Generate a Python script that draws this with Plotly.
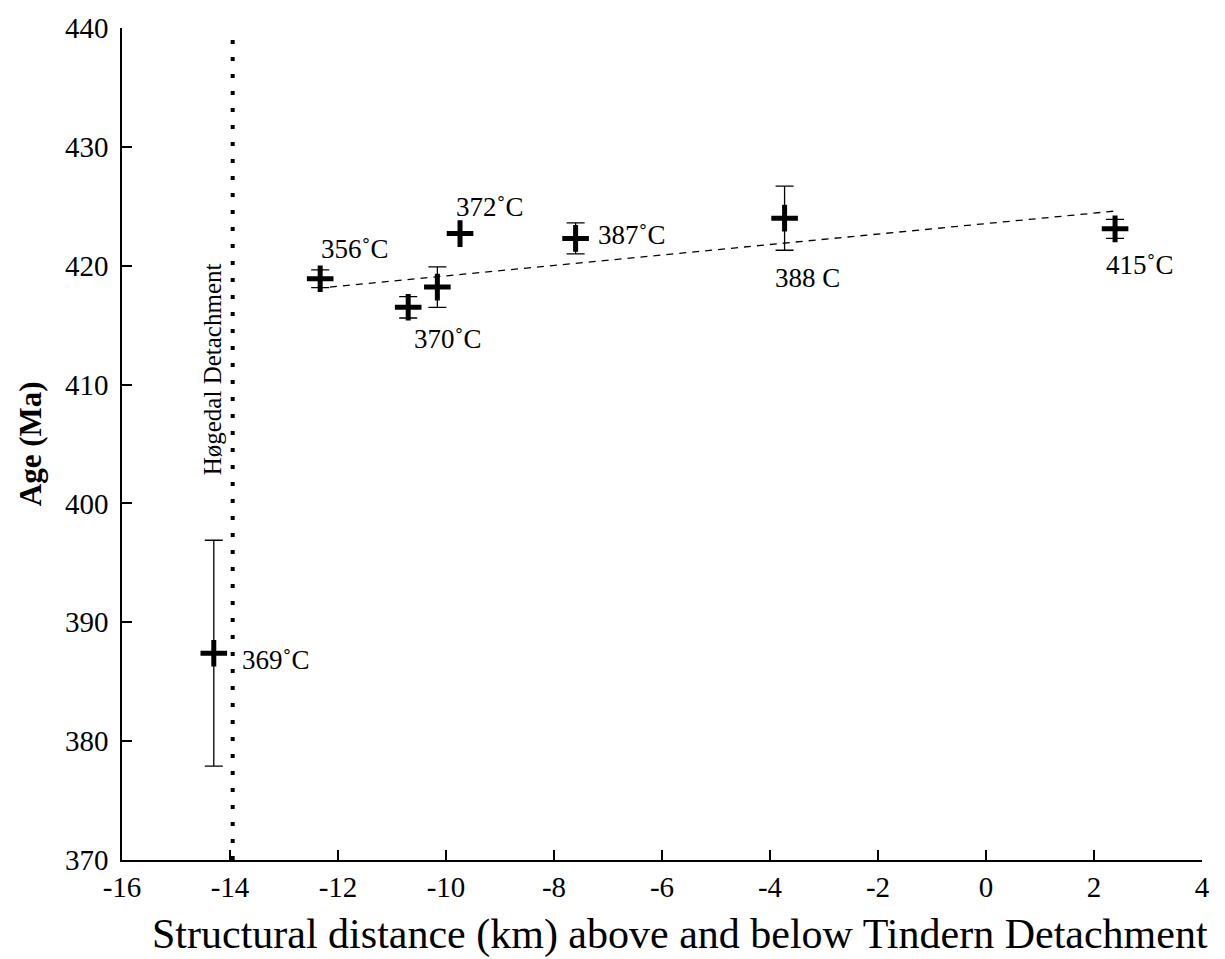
import plotly.graph_objects as go

# Data
dist_km = [-14.3, -12.33, -10.70, -10.16, -9.74, -7.60, -3.73, 2.39]
age_ma = [387.4, 418.9, 416.5, 418.2, 422.7, 422.3, 424.0, 423.1]
age_err = [9.5, 0.75, 0.9, 1.7, 0.0, 1.3, 2.7, 0.8]

temp_labels = ["369˚C", "356˚C", "370˚C", "", "372˚C", "387˚C", "388 C", "415˚C"]
label_x = [-13.15, -11.68, -9.96, None, -9.19, -6.56, -3.30, 2.85]
label_y = [386.8, 421.4, 413.8, None, 424.9, 422.6, 419.0, 420.1]

fit_x = [-12.15, 2.4]
fit_y = [418.2, 424.6]

detach_x = [-13.95, -13.95]
detach_y = [370, 440]

x_ticks = [-16, -14, -12, -10, -8, -6, -4, -2, 0, 2, 4]
y_ticks = [370, 380, 390, 400, 410, 420, 430, 440]

FONT = "Liberation Serif"
TICKFONT = dict(family=FONT, size=29, color="black")

fig = go.Figure()

fig.add_trace(go.Scatter(
    x=detach_x, y=detach_y, mode="lines",
    line=dict(color="black", width=4, dash="4px,13px"),
    hoverinfo="skip", showlegend=False))

fig.add_trace(go.Scatter(
    x=fit_x, y=fit_y, mode="lines",
    line=dict(color="black", width=1.3, dash="7px,6px"),
    hoverinfo="skip", showlegend=False))

fig.add_trace(go.Scatter(
    x=dist_km, y=age_ma, mode="markers",
    marker=dict(symbol="cross-thin", size=19, color="black",
                line=dict(color="black", width=5)),
    error_y=dict(type="data", array=age_err, visible=True,
                 color="black", thickness=1.3, width=9),
    showlegend=False))

for t, lx, ly in zip(temp_labels, label_x, label_y):
    if t:
        fig.add_annotation(x=lx, y=ly, text=t, showarrow=False,
                           font=dict(family=FONT, size=27, color="black"))

fig.add_annotation(x=-14.33, y=411.3, text="Høgedal Detachment", textangle=-90,
                   showarrow=False, font=dict(family=FONT, size=25, color="black"))

fig.add_annotation(xref="paper", yref="paper", x=-0.085, y=0.5, xanchor="center",
                   yanchor="middle",
                   text="<b>Age (Ma)</b>", textangle=-90, showarrow=False,
                   font=dict(family=FONT, size=31, color="black"))

fig.add_annotation(xref="paper", yref="paper", x=0.517, y=-0.089, yanchor="middle",
                   text="Structural distance (km) above and below Tindern Detachment",
                   showarrow=False, font=dict(family=FONT, size=42, color="black"))

fig.update_layout(
    width=1225, height=959,
    margin=dict(l=122, r=23, t=20, b=99),
    font=dict(family=FONT, color="black", size=29),
    plot_bgcolor="white", paper_bgcolor="white",
    xaxis=dict(range=[-16, 4], tickmode="array", tickvals=x_ticks,
               ticktext=[str(v) for v in x_ticks],
               ticks="inside", ticklen=10, tickwidth=1.5, tickcolor="black",
               showline=True, linecolor="black", linewidth=1.5,
               showgrid=False, zeroline=False, tickfont=TICKFONT,
               ticklabelstandoff=0),
    yaxis=dict(range=[370, 440], tickmode="array", tickvals=y_ticks,
               ticktext=[str(v) for v in y_ticks],
               ticks="inside", ticklen=10, tickwidth=1.5, tickcolor="black",
               showline=True, linecolor="black", linewidth=1.5,
               showgrid=False, zeroline=False, tickfont=TICKFONT,
               ticklabelstandoff=6),
)

fig.write_html("out.html")
